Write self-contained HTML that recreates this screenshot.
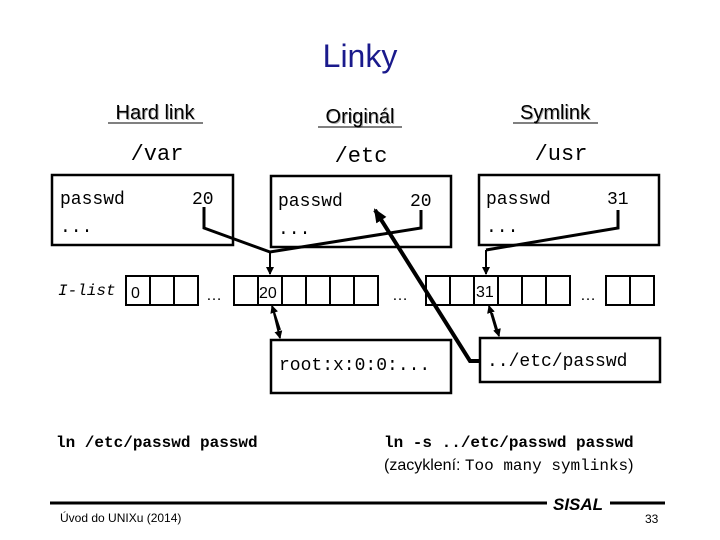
<!DOCTYPE html>
<html><head><meta charset="utf-8"><style>
body{margin:0;background:#fff}
svg{display:block}
.m{font-family:"Liberation Mono",monospace}
.s{font-family:"Liberation Sans",sans-serif}
</style></head><body>
<svg width="720" height="540" viewBox="0 0 720 540" xmlns="http://www.w3.org/2000/svg">
<defs>
<marker id="a" markerWidth="8" markerHeight="8" refX="7" refY="4" orient="auto" markerUnits="userSpaceOnUse"><path d="M0,0 L8,4 L0,8 z" fill="#000"/></marker>
<marker id="b" markerWidth="14" markerHeight="12" refX="12" refY="6" orient="auto" markerUnits="userSpaceOnUse"><path d="M0,0 L14,6 L0,12 z" fill="#000"/></marker>
</defs>
<text x="360" y="67" text-anchor="middle" class="s" font-size="32" fill="#1a1a8c">Linky</text>
<g class="s" font-size="20" text-anchor="middle">
<text x="156" y="120" fill="#aaa">Hard link</text><text x="155" y="119">Hard link</text>
<text x="361" y="124" fill="#aaa">Originál</text><text x="360" y="123">Originál</text>
<text x="556" y="120" fill="#aaa">Symlink</text><text x="555" y="119">Symlink</text>
</g>
<line x1="108" y1="123" x2="203" y2="123" stroke="#000"/>
<line x1="318" y1="127" x2="402" y2="127" stroke="#000"/>
<line x1="513" y1="123" x2="598" y2="123" stroke="#000"/>
<g class="m" font-size="22" text-anchor="middle">
<text x="157" y="160">/var</text><text x="361" y="162">/etc</text><text x="561" y="160">/usr</text>
</g>
<g fill="none" stroke="#000" stroke-width="2.5">
<rect x="52" y="175" width="181" height="70"/>
<rect x="271" y="176" width="180" height="71"/>
<rect x="479" y="175" width="180" height="70"/>
<rect x="271" y="340" width="180" height="53"/>
<rect x="480" y="338" width="180" height="44"/>
</g>
<g class="m" font-size="18">
<text x="60" y="204">passwd</text><text x="192" y="204">20</text><text x="60" y="232">...</text>
<text x="278" y="206">passwd</text><text x="410" y="206">20</text><text x="278" y="234">...</text>
<text x="486" y="204">passwd</text><text x="607" y="204">31</text><text x="486" y="232">...</text>
<text x="279" y="370">root:x:0:0:...</text>
<text x="487" y="366">../etc/passwd</text>
<text x="58" y="295" font-style="italic" font-size="16">I-list</text>
</g>
<g fill="none" stroke="#000" stroke-width="2">
<rect x="126" y="276" width="72" height="29"/>
<line x1="150" y1="276" x2="150" y2="305"/><line x1="174" y1="276" x2="174" y2="305"/>
<rect x="234" y="276" width="144" height="29"/>
<line x1="258" y1="276" x2="258" y2="305"/><line x1="282" y1="276" x2="282" y2="305"/><line x1="306" y1="276" x2="306" y2="305"/><line x1="330" y1="276" x2="330" y2="305"/><line x1="354" y1="276" x2="354" y2="305"/>
<rect x="426" y="276" width="144" height="29"/>
<line x1="450" y1="276" x2="450" y2="305"/><line x1="474" y1="276" x2="474" y2="305"/><line x1="498" y1="276" x2="498" y2="305"/><line x1="522" y1="276" x2="522" y2="305"/><line x1="546" y1="276" x2="546" y2="305"/>
<rect x="606" y="276" width="48" height="29"/><line x1="630" y1="276" x2="630" y2="305"/>
</g>
<g class="s" font-size="16">
<text x="131" y="298">0</text><text x="259" y="298">20</text><text x="476" y="297">31</text>
<text x="206" y="300">…</text><text x="392" y="300">…</text><text x="580" y="300">…</text>
</g>
<g fill="none" stroke="#000" stroke-width="3">
<polyline points="204,207 204,228 270,252 421,228 421,210"/>
<polyline points="618,210 618,228 486,250"/>
</g>
<g stroke="#000" stroke-width="2" fill="none">
<line x1="270" y1="252" x2="270" y2="274" marker-end="url(#a)"/>
<line x1="486" y1="250" x2="486" y2="274" marker-end="url(#a)"/>
<line x1="274" y1="313" x2="280" y2="338" marker-end="url(#a)"/>
<line x1="280" y1="330" x2="272" y2="306" marker-end="url(#a)"/>
<line x1="492" y1="313" x2="499" y2="336" marker-end="url(#a)"/>
<line x1="496" y1="330" x2="489" y2="306" marker-end="url(#a)"/>
</g>
<polyline points="480,361 470,361 375,210" fill="none" stroke="#000" stroke-width="4" marker-end="url(#b)"/>
<g class="m" font-size="16" font-weight="bold">
<text x="56" y="447">ln /etc/passwd passwd</text>
<text x="384" y="447">ln -s ../etc/passwd passwd</text>
</g>
<text x="384" y="470" font-size="16"><tspan class="s">(zacyklení: </tspan><tspan class="m">Too many symlinks</tspan><tspan class="s">)</tspan></text>
<line x1="50" y1="503" x2="547" y2="503" stroke="#000" stroke-width="3"/>
<line x1="610" y1="503" x2="665" y2="503" stroke="#000" stroke-width="3"/>
<text x="553" y="510" class="s" font-size="17" font-style="italic" font-weight="bold">SISAL</text>
<text x="60" y="522" class="s" font-size="12">Úvod do UNIXu (2014)</text>
<text x="645" y="523" class="s" font-size="12">33</text>
</svg>
</body></html>
